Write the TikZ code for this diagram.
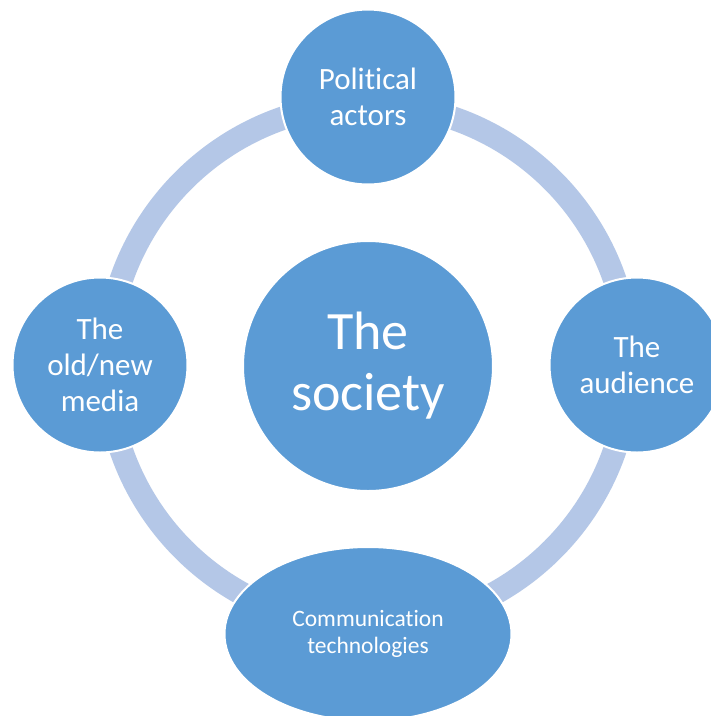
\documentclass[tikz,border=0pt]{standalone}
\usepackage{fontspec}
\setmainfont{Carlito}[Ligatures=NoCommon]
\usetikzlibrary{shapes.geometric}
\definecolor{nodeblue}{HTML}{5B9BD5}
\definecolor{ringblue}{HTML}{B4C7E7}
\tikzset{
  ringpath/.style={circle, draw=ringblue, line width=23.5pt, inner sep=0pt, minimum size=522pt},
  bubble/.style={circle, fill=nodeblue, draw=white, line width=2pt, inner sep=0pt, text=white, align=center},
  small/.style={font=\fontsize{31}{36}\selectfont},
}
\begin{document}
\begin{tikzpicture}[x=1pt,y=-1pt]
\useasboundingbox (0,0) rectangle (711,716);
\fill[white] (0,0) rectangle (711,716);
\node[ringpath] (ring) at (368,365) {};
\node[bubble, small, minimum size=175pt] (actors) at (368,97) {Political\\actors};
\node[bubble, small, minimum size=175pt] (media) at (100,365) {The\\old/new\\media};
\node[bubble, small, minimum size=175pt] (audience) at (637,365) {The\\audience};
\node[bubble, minimum size=250pt, font=\fontsize{54}{61}\selectfont] (society) at (368,366) {The\\society};
\node[bubble, ellipse, minimum width=287pt, minimum height=174pt, font=\fontsize{23.5}{27}\selectfont] (tech) at (368,634) {Communication\\technologies};
\end{tikzpicture}
\end{document}
